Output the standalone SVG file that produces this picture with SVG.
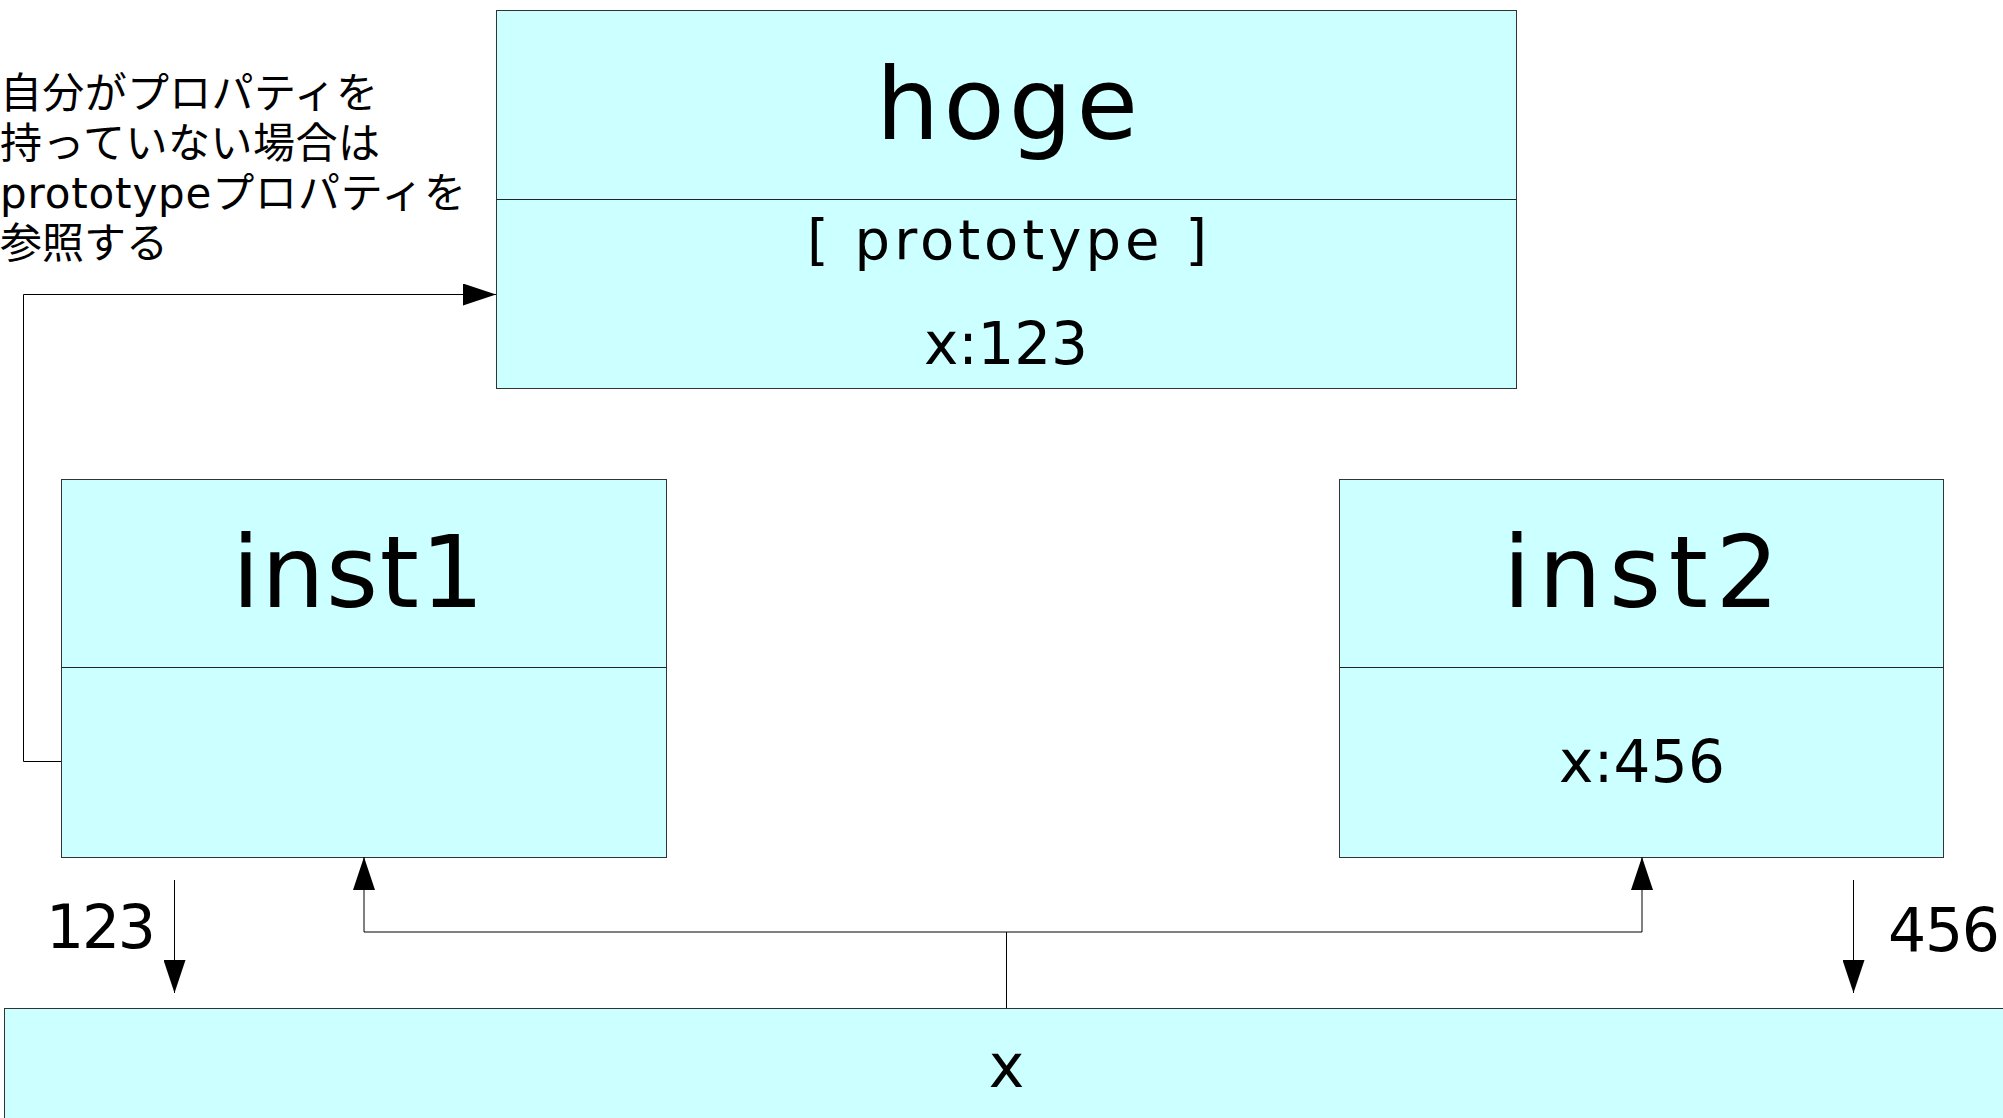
<svg xmlns="http://www.w3.org/2000/svg" width="2003" height="1118" viewBox="0 0 2003 1118">
<style>
.box{fill:#ccffff;stroke:#333;stroke-width:1}
.div{stroke:#222;stroke-width:1.2}
.t{font-family:"DejaVu Sans","Noto Sans CJK JP",sans-serif;fill:#000;text-anchor:middle}
.note{font-family:"DejaVu Sans","Noto Sans CJK JP",sans-serif;fill:#000;font-size:42px}
.c{fill:none;stroke:#000;stroke-width:1}
</style>
<defs>
<marker id="arr" viewBox="0 0 33 22" refX="33" refY="11" markerWidth="33" markerHeight="22" markerUnits="userSpaceOnUse" orient="auto">
<path d="M0,0 L33,11 L0,22 z" fill="#000"/>
</marker>
</defs>
<rect width="2003" height="1118" fill="#fff"/>
<g id="hoge">
<rect class="box" x="496.5" y="10.5" width="1020" height="378"/>
<line class="div" x1="496.5" y1="199.5" x2="1516.5" y2="199.5"/>
<text class="t" x="1007" y="139" font-size="100" textLength="262">hoge</text>
<text class="t" x="1007" y="259" font-size="56" textLength="400">[ prototype ]</text>
<text class="t" x="1006" y="364" font-size="58" textLength="164">x:123</text>
</g>
<g id="inst1">
<rect class="box" x="61.5" y="479.5" width="605" height="378"/>
<line class="div" x1="61.5" y1="667.5" x2="666.5" y2="667.5"/>
<text class="t" x="358" y="607" font-size="100" textLength="252">inst1</text>
</g>
<g id="inst2">
<rect class="box" x="1339.5" y="479.5" width="604" height="378"/>
<line class="div" x1="1339.5" y1="667.5" x2="1943.5" y2="667.5"/>
<text class="t" x="1641" y="607" font-size="100" textLength="276">inst2</text>
<text class="t" x="1642" y="782" font-size="58" textLength="166">x:456</text>
</g>
<g id="x">
<rect class="box" x="4.5" y="1008.5" width="2100" height="200"/>
<text class="t" x="1006.5" y="1087" font-size="60">x</text>
</g>
<g id="note">
<text class="note" x="0" y="108" textLength="378">自分がプロパティを</text>
<text class="note" x="0" y="158" textLength="380">持っていない場合は</text>
<text class="note" x="0" y="208" textLength="466">prototypeプロパティを</text>
<text class="note" x="0" y="258">参照する</text>
</g>
<g id="connectors">
<path class="c" d="M61,761.5 H23.5 V294.5 H496" marker-end="url(#arr)"/>
<path class="c" d="M1006.5,1008 V932 H364 V857" marker-end="url(#arr)"/>
<path class="c" d="M1006.5,932 H1642 V857" marker-end="url(#arr)"/>
<path class="c" d="M174.5,880 V993" marker-end="url(#arr)"/>
<path class="c" d="M1853.5,880 V993" marker-end="url(#arr)"/>
<text class="t" x="101" y="948" font-size="60" textLength="110">123</text>
<text class="t" x="1944" y="951" font-size="60" textLength="112">456</text>
</g>
</svg>
